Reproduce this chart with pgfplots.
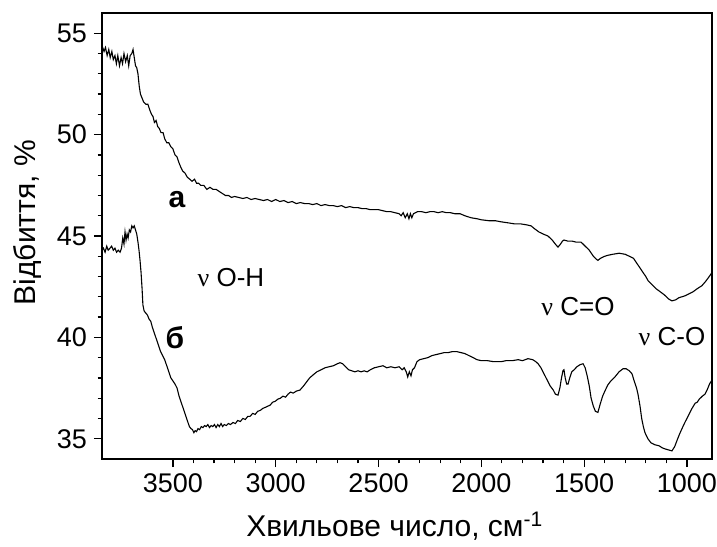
\documentclass[border=0pt]{standalone}
\usepackage{pgfplots}
\pgfplotsset{compat=1.18}
\usepackage{fontspec}
\setmainfont{Liberation Sans}
\newfontfamily\grk{Liberation Serif}

\pgfplotstableread{
x y
3845 54.4
3835 54.1
3828 54.3
3820 53.9
3812 54.2
3805 53.8
3797 54.1
3790 53.7
3782 53.9
3775 53.5
3768 53.9
3760 53.4
3752 53.8
3745 53.5
3738 54.0
3730 53.6
3722 53.9
3715 53.4
3708 53.9
3700 54.0
3694 54.2
3688 53.8
3682 53.4
3676 53.3
3670 53.0
3664 52.4
3658 52.0
3650 51.8
3642 51.6
3632 51.5
3622 51.5
3612 51.2
3604 51.0
3597 50.9
3590 50.6
3582 50.7
3574 50.4
3566 50.3
3558 50.1
3548 50.1
3540 49.8
3530 49.6
3520 49.6
3510 49.4
3500 49.3
3490 49.0
3480 48.9
3470 48.6
3462 48.4
3452 48.2
3441 48.1
3430 47.9
3418 47.8
3407 47.7
3395 47.8
3385 47.6
3375 47.6
3365 47.5
3350 47.5
3335 47.3
3320 47.4
3305 47.3
3290 47.3
3275 47.2
3260 47.1
3245 47.0
3230 47.0
3215 46.9
3200 46.95
3180 46.9
3160 46.85
3140 46.9
3120 46.8
3100 46.85
3080 46.8
3060 46.75
3040 46.8
3020 46.7
3000 46.8
2980 46.7
2960 46.75
2940 46.65
2920 46.7
2900 46.6
2880 46.65
2860 46.6
2840 46.6
2820 46.55
2800 46.6
2780 46.5
2760 46.55
2740 46.5
2720 46.5
2700 46.45
2680 46.5
2660 46.4
2640 46.45
2620 46.4
2600 46.4
2580 46.35
2560 46.35
2540 46.3
2520 46.3
2500 46.3
2480 46.25
2460 46.2
2440 46.2
2420 46.15
2400 46.1
2390 46.0
2380 46.15
2370 45.9
2360 46.1
2352 45.85
2345 46.1
2338 45.9
2330 46.1
2310 46.2
2290 46.2
2270 46.15
2250 46.2
2230 46.2
2210 46.15
2190 46.2
2170 46.15
2150 46.15
2130 46.1
2104 46.1
2080 46.0
2050 45.9
2020 45.85
2000 45.8
1960 45.75
1930 45.75
1904 45.7
1870 45.65
1840 45.6
1810 45.6
1780 45.55
1758 45.5
1740 45.35
1720 45.2
1700 45.1
1676 45.0
1655 44.8
1640 44.6
1627 44.45
1615 44.6
1605 44.75
1598 44.8
1580 44.75
1560 44.75
1540 44.7
1515 44.7
1495 44.5
1475 44.3
1455 44.0
1440 43.85
1433 43.8
1420 43.9
1400 44.0
1384 44.05
1360 44.1
1330 44.15
1301 44.1
1280 44.0
1260 43.9
1240 43.6
1220 43.3
1200 43.0
1189 42.8
1170 42.6
1150 42.4
1130 42.25
1110 42.1
1090 41.9
1073 41.8
1055 41.85
1040 41.95
1025 42.0
1009 42.05
990 42.15
970 42.25
950 42.4
927 42.55
910 42.75
895 42.95
878 43.2
}\specA

\pgfplotstableread{
x y
3845 44.3
3838 44.4
3830 44.2
3822 44.5
3815 44.3
3806 44.4
3798 44.5
3790 44.3
3782 44.4
3774 44.2
3766 44.3
3757 44.2
3750 44.4
3744 44.9
3738 44.6
3733 45.2
3728 44.8
3723 45.1
3718 44.9
3712 45.3
3706 45.2
3700 45.5
3694 45.4
3688 45.5
3682 45.3
3676 45.1
3670 44.7
3665 44.3
3660 43.8
3655 43.2
3650 42.4
3646 41.6
3640 41.3
3632 41.2
3624 41.1
3616 40.9
3608 40.8
3600 40.5
3590 40.2
3580 39.9
3570 39.6
3560 39.3
3550 39.1
3540 38.9
3530 38.6
3520 38.3
3510 38.0
3500 37.85
3490 37.7
3480 37.5
3470 37.1
3460 36.8
3450 36.5
3440 36.2
3430 35.9
3420 35.6
3412 35.5
3405 35.45
3398 35.3
3392 35.4
3385 35.35
3378 35.5
3370 35.45
3362 35.6
3354 35.55
3346 35.65
3338 35.6
3330 35.7
3322 35.55
3314 35.65
3306 35.6
3298 35.7
3290 35.55
3282 35.7
3274 35.6
3266 35.75
3258 35.6
3250 35.7
3240 35.65
3230 35.75
3220 35.7
3208 35.8
3196 35.75
3185 35.9
3172 35.85
3160 36.0
3148 35.95
3136 36.1
3125 36.1
3112 36.25
3100 36.2
3088 36.35
3075 36.4
3062 36.5
3050 36.55
3040 36.6
3028 36.65
3015 36.8
3002 36.85
2990 36.95
2977 37.0
2965 37.1
2952 37.05
2940 37.2
2928 37.3
2915 37.25
2900 37.35
2882 37.4
2865 37.6
2850 37.8
2835 38.0
2818 38.15
2800 38.3
2780 38.4
2760 38.5
2740 38.55
2720 38.6
2700 38.7
2687 38.75
2675 38.7
2660 38.55
2645 38.4
2630 38.35
2615 38.3
2600 38.35
2585 38.3
2570 38.35
2555 38.3
2540 38.4
2520 38.5
2500 38.55
2478 38.6
2460 38.5
2440 38.55
2420 38.5
2400 38.55
2385 38.4
2375 38.5
2365 38.3
2358 38.05
2350 38.3
2342 38.1
2335 38.4
2325 38.5
2313 38.8
2300 38.9
2280 38.95
2260 39.0
2240 39.1
2220 39.15
2200 39.2
2180 39.25
2160 39.25
2140 39.3
2120 39.3
2100 39.25
2080 39.2
2060 39.1
2040 39.0
2021 38.9
2000 38.85
1970 38.85
1940 38.8
1904 38.8
1880 38.85
1850 38.85
1820 38.9
1800 38.85
1773 38.95
1750 38.9
1735 38.8
1724 38.7
1710 38.5
1695 38.2
1680 37.9
1665 37.6
1650 37.4
1640 37.2
1627 37.15
1618 37.5
1610 38.0
1603 38.35
1598 38.4
1592 38.0
1585 37.7
1578 37.7
1570 38.0
1560 38.3
1549 38.4
1535 38.55
1520 38.65
1505 38.7
1495 38.5
1485 38.1
1475 37.6
1466 37.0
1455 36.6
1445 36.35
1433 36.3
1422 36.7
1410 37.1
1399 37.35
1385 37.65
1370 37.85
1350 38.05
1330 38.3
1311 38.45
1295 38.45
1280 38.35
1267 38.2
1255 37.8
1245 37.5
1238 37.2
1228 36.6
1220 36.0
1212 35.6
1204 35.3
1190 35.0
1175 34.8
1155 34.7
1135 34.65
1120 34.55
1107 34.5
1090 34.45
1073 34.4
1060 34.6
1045 35.0
1035 35.25
1024 35.5
1010 35.8
1000 36.0
990 36.2
975 36.5
960 36.75
950 36.8
940 36.95
925 37.1
912 37.2
900 37.45
890 37.7
878 37.9
}\specB

\begin{document}
\begin{tikzpicture}
\useasboundingbox (-51pt,-43.5pt) rectangle (307.5pt,229.5pt);
\begin{axis}[
    scale only axis,
    width=305pt, height=223pt,
    at={(0,0)}, anchor=south west,
    x dir=reverse,
    xmin=878, xmax=3845,
    ymin=34, ymax=56,
    xtick={1000,1500,...,3500},
    ytick={35,40,...,55},
    minor x tick num=4,
    minor y tick num=4,
    xtick pos=bottom, ytick pos=left,
    tick align=outside,
    major tick length=4pt,
    minor tick length=2.2pt,
    axis line style={line width=0.7pt},
    every tick/.style={line width=0.6pt, black},
    /pgf/number format/assume math mode=true,
    /pgf/number format/1000 sep={},
    tick label style={font=\fontsize{13.5}{15}\selectfont},
    xlabel={Хвильове число, см\textsuperscript{-1}},
    ylabel={Відбиття, \%},
    label style={font=\fontsize{15}{17}\selectfont},
    xlabel style={at={(ticklabel cs:0.48,2.5pt)}},
    ylabel style={at={(ticklabel cs:0.53,1pt)}},
]
\addplot[black, line width=0.55pt, no marks] table {\specA};
\addplot[black, line width=0.55pt, no marks] table {\specB};
\node[font=\fontsize{15}{17}\selectfont\bfseries] at (axis cs:3480,46.8) {а};
\node[font=\fontsize{15}{17}\selectfont\bfseries] at (axis cs:3490,40.0) {б};
\node[font=\fontsize{13}{15}\selectfont] at (axis cs:3218,42.95) {{\grk ν} O-H};
\node[font=\fontsize{13}{15}\selectfont] at (axis cs:1530,41.5) {{\grk ν} C=O};
\node[font=\fontsize{13}{15}\selectfont] at (axis cs:1073,40.04) {{\grk ν} C-O};
\end{axis}
\end{tikzpicture}
\end{document}
